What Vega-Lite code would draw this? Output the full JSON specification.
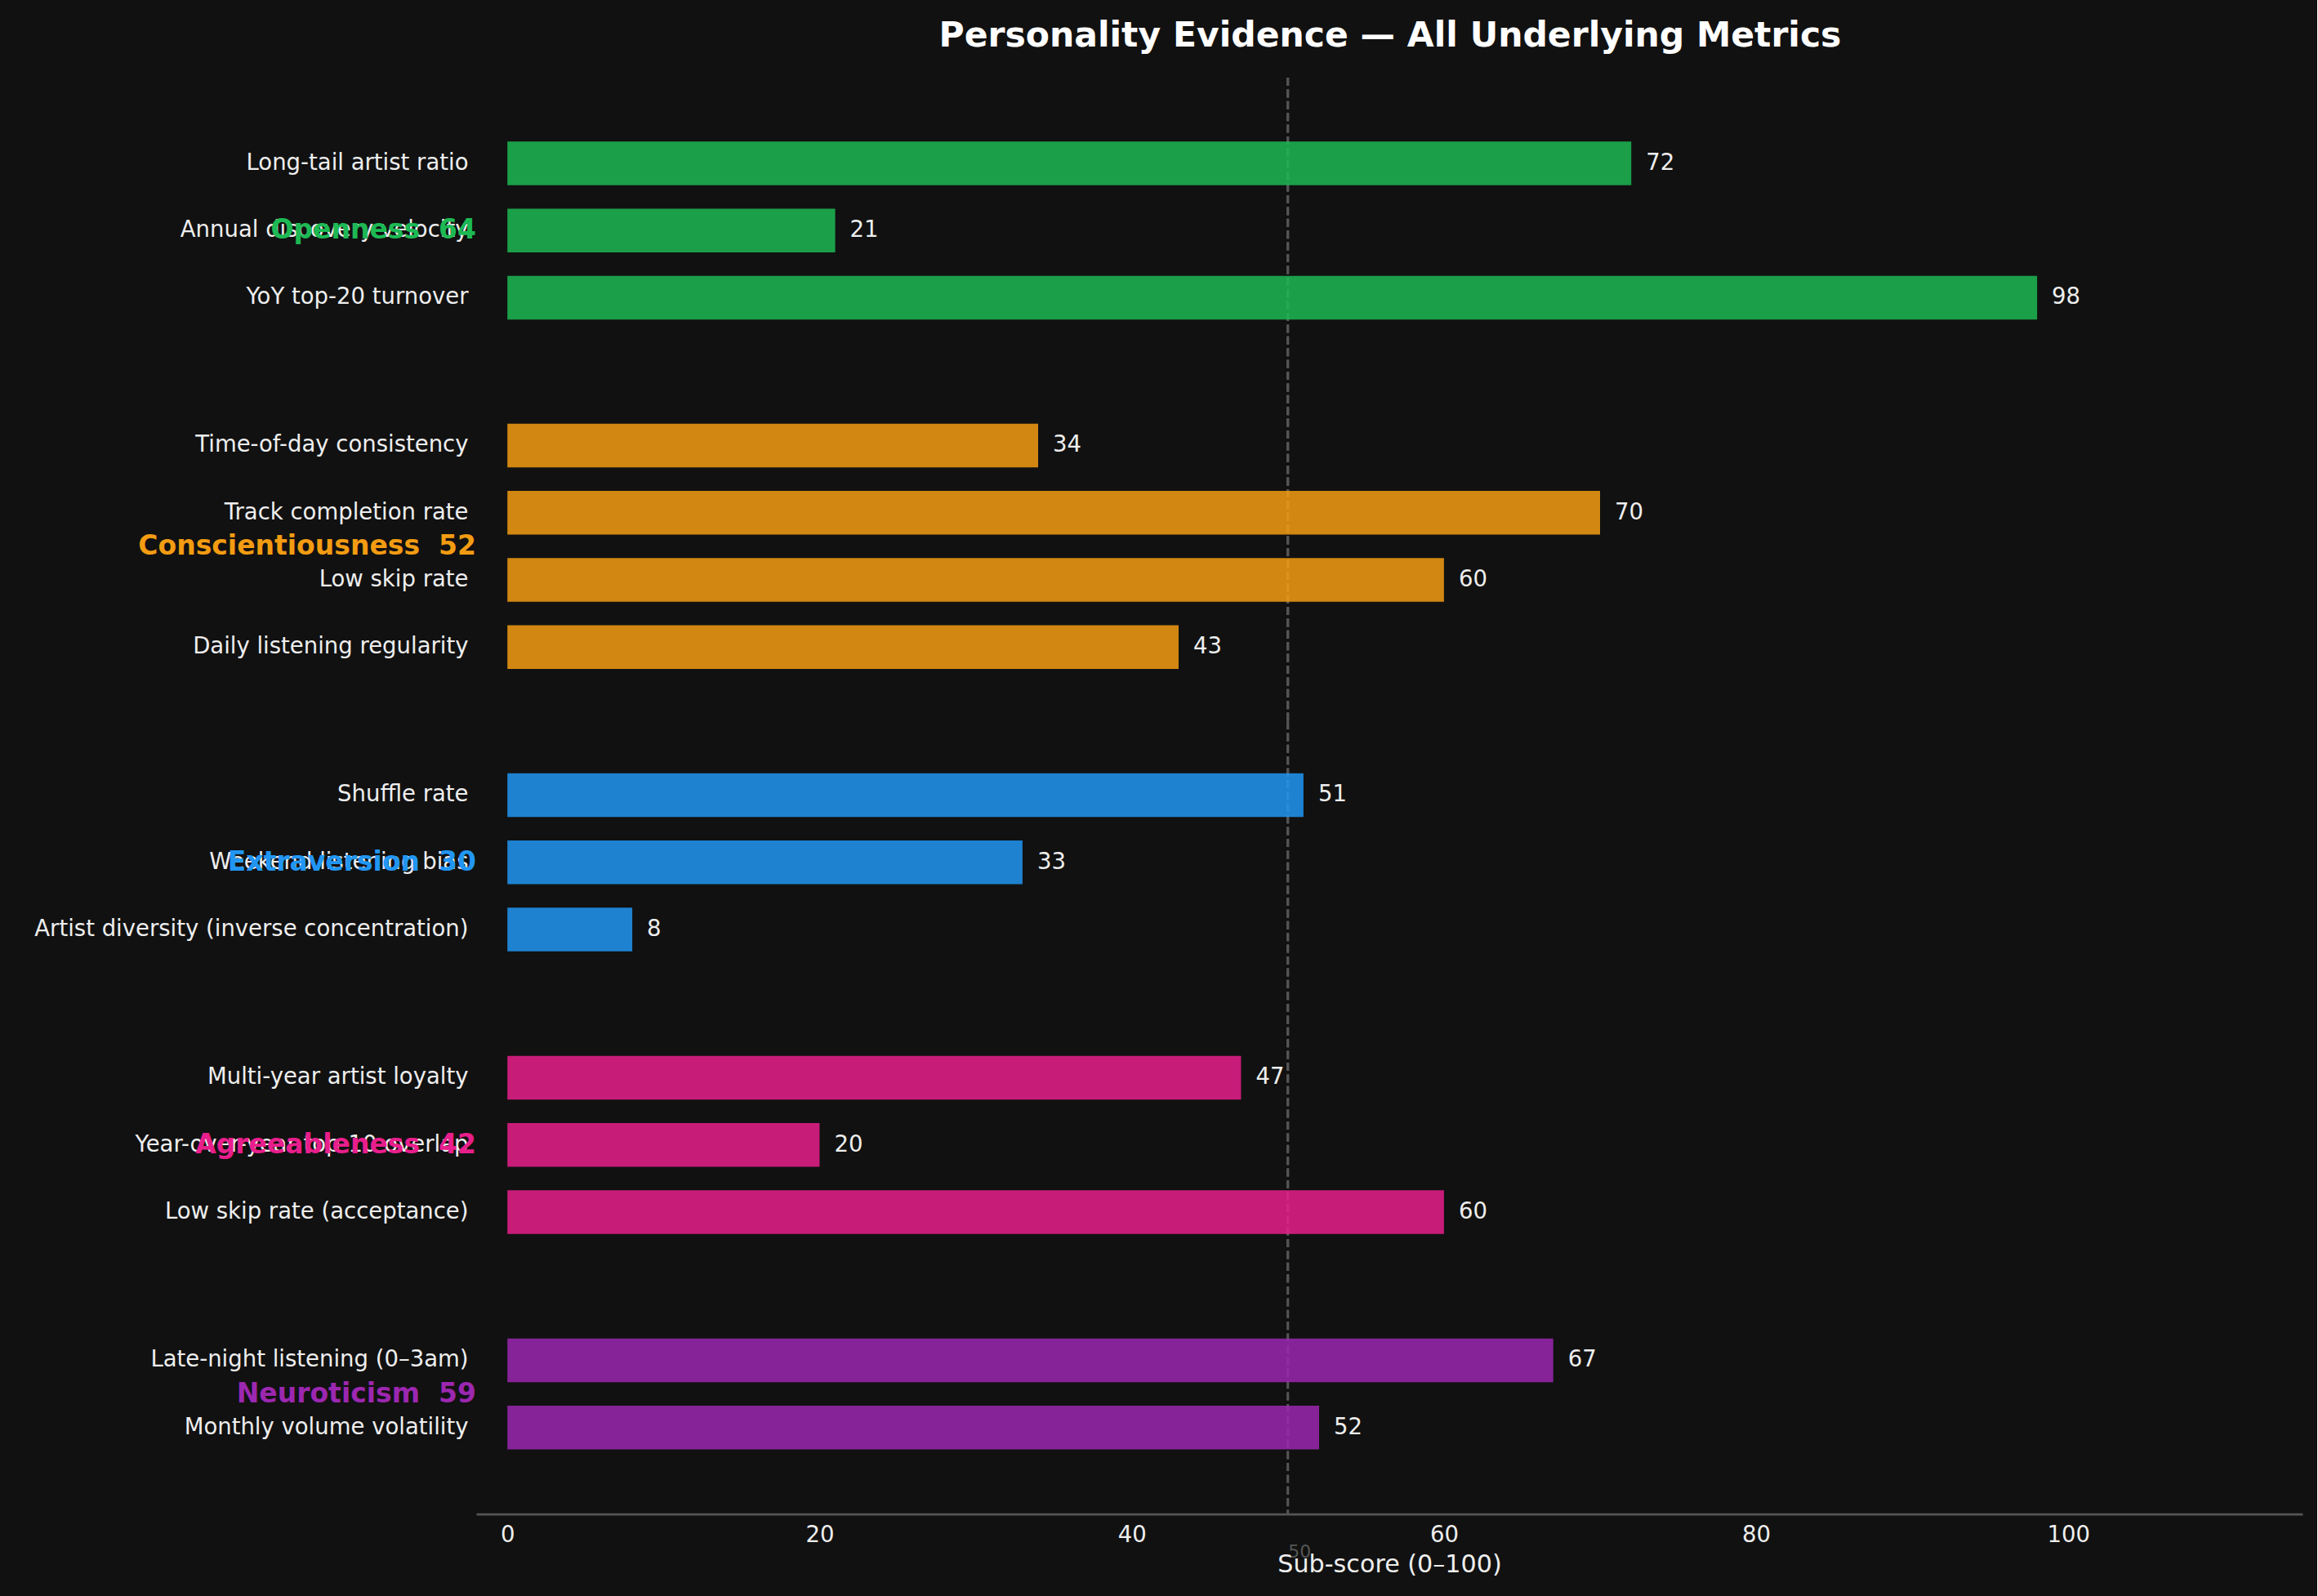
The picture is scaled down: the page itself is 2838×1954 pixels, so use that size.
{
  "$schema": "https://vega.github.io/schema/vega-lite/v6.json",
  "background": "#111111",
  "padding": {"left": 41, "right": 18, "top": 22, "bottom": 24},
  "title": {
    "text": "Personality Evidence — All Underlying Metrics",
    "font": "DejaVu Sans",
    "fontSize": 42.5,
    "fontWeight": "bold",
    "color": "#ffffff",
    "anchor": "middle",
    "dx": 272,
    "offset": 28.5
  },
  "data": {
    "values": [
      {"trait": "Openness", "traitScore": 64, "metric": "Long-tail artist ratio", "score": 72},
      {"trait": "Openness", "traitScore": 64, "metric": "Annual discovery velocity", "score": 21},
      {"trait": "Openness", "traitScore": 64, "metric": "YoY top-20 turnover", "score": 98},
      {"trait": "Conscientiousness", "traitScore": 52, "metric": "Time-of-day consistency", "score": 34},
      {"trait": "Conscientiousness", "traitScore": 52, "metric": "Track completion rate", "score": 70},
      {"trait": "Conscientiousness", "traitScore": 52, "metric": "Low skip rate", "score": 60},
      {"trait": "Conscientiousness", "traitScore": 52, "metric": "Daily listening regularity", "score": 43},
      {"trait": "Extraversion", "traitScore": 30, "metric": "Shuffle rate", "score": 51},
      {"trait": "Extraversion", "traitScore": 30, "metric": "Weekend listening bias", "score": 33},
      {"trait": "Extraversion", "traitScore": 30, "metric": "Artist diversity (inverse concentration)", "score": 8},
      {"trait": "Agreeableness", "traitScore": 42, "metric": "Multi-year artist loyalty", "score": 47},
      {"trait": "Agreeableness", "traitScore": 42, "metric": "Year-over-year top-10 overlap", "score": 20},
      {"trait": "Agreeableness", "traitScore": 42, "metric": "Low skip rate (acceptance)", "score": 60},
      {"trait": "Neuroticism", "traitScore": 59, "metric": "Late-night listening (0–3am)", "score": 67},
      {"trait": "Neuroticism", "traitScore": 59, "metric": "Monthly volume volatility", "score": 52}
    ]
  },
  "spacing": 0,
  "bounds": "flush",
  "resolve": {"scale": {"y": "independent"}, "axis": {"y": "independent"}},
  "vconcat": [
    {
      "width": 2236,
      "height": 359.96,
      "transform": [{"filter": "datum.trait === 'Openness'"}],
      "layer": [
        {"mark": {"type": "rule", "color": "#555555", "strokeWidth": 2.75, "strokeDash": [10, 4.4]}, "encoding": {"x": {"datum": 50, "axis": null}}},
        {
          "mark": {"type": "bar", "opacity": 0.85},
          "encoding": {
            "x": {"field": "score", "type": "quantitative", "scale": {"domain": [-2, 115], "nice": false, "zero": false}, "axis": null},
            "y": {"field": "metric", "type": "nominal", "sort": null, "scale": {"paddingInner": 0.35, "paddingOuter": 0.8633, "align": 0.551},
              "axis": {"title": null, "ticks": false, "domain": false, "grid": false, "labelPadding": 10, "labelFont": "DejaVu Sans", "labelFontSize": 27.5, "labelColor": "#eeeeee", "labelLimit": 0, "minExtent": 542, "maxExtent": 542}},
            "color": {"field": "trait", "type": "nominal", "scale": {"domain": ["Openness", "Conscientiousness", "Extraversion", "Agreeableness", "Neuroticism"], "range": ["#1DB954", "#F39C12", "#2196F3", "#E91E8C", "#9C27B0"]}, "legend": null}
          }
        },
        {
          "mark": {"type": "text", "align": "left", "baseline": "middle", "dx": 18, "font": "DejaVu Sans", "fontSize": 27.5, "color": "#eeeeee"},
          "encoding": {"x": {"field": "score", "type": "quantitative", "axis": null}, "y": {"field": "metric", "type": "nominal", "sort": null}, "text": {"field": "score", "type": "quantitative"}}
        },
        {
          "transform": [
            {"aggregate": [{"op": "max", "field": "traitScore", "as": "traitScore"}], "groupby": ["trait"]},
            {"calculate": "datum.trait + '\u00a0\u00a0' + datum.traitScore", "as": "traitLabel"}
          ],
          "mark": {"type": "text", "align": "right", "baseline": "middle", "dy": 7.3, "font": "DejaVu Sans", "fontSize": 33, "fontWeight": "bold"},
          "encoding": {"x": {"datum": -2, "axis": null}, "text": {"field": "traitLabel", "type": "nominal"}, "color": {"field": "trait", "type": "nominal", "legend": null}}
        }
      ]
    },
    {
      "width": 2236,
      "height": 427.7,
      "transform": [{"filter": "datum.trait === 'Conscientiousness'"}],
      "layer": [
        {"mark": {"type": "rule", "color": "#555555", "strokeWidth": 2.75, "strokeDash": [10, 4.4]}, "encoding": {"x": {"datum": 50, "axis": null}}},
        {
          "mark": {"type": "bar", "opacity": 0.85},
          "encoding": {
            "x": {"field": "score", "type": "quantitative", "scale": {"domain": [-2, 115], "nice": false, "zero": false}, "axis": null},
            "y": {"field": "metric", "type": "nominal", "sort": null, "scale": {"paddingInner": 0.35, "paddingOuter": 0.775},
              "axis": {"title": null, "ticks": false, "domain": false, "grid": false, "labelPadding": 10, "labelFont": "DejaVu Sans", "labelFontSize": 27.5, "labelColor": "#eeeeee", "labelLimit": 0, "minExtent": 542, "maxExtent": 542}},
            "color": {"field": "trait", "type": "nominal", "legend": null}
          }
        },
        {
          "mark": {"type": "text", "align": "left", "baseline": "middle", "dx": 18, "font": "DejaVu Sans", "fontSize": 27.5, "color": "#eeeeee"},
          "encoding": {"x": {"field": "score", "type": "quantitative", "axis": null}, "y": {"field": "metric", "type": "nominal", "sort": null}, "text": {"field": "score", "type": "quantitative"}}
        },
        {
          "transform": [
            {"aggregate": [{"op": "max", "field": "traitScore", "as": "traitScore"}], "groupby": ["trait"]},
            {"calculate": "datum.trait + '\u00a0\u00a0' + datum.traitScore", "as": "traitLabel"}
          ],
          "mark": {"type": "text", "align": "right", "baseline": "middle", "font": "DejaVu Sans", "fontSize": 33, "fontWeight": "bold"},
          "encoding": {"x": {"datum": -2, "axis": null}, "text": {"field": "traitLabel", "type": "nominal"}, "color": {"field": "trait", "type": "nominal", "legend": null}}
        }
      ]
    },
    {
      "width": 2236,
      "height": 345.45,
      "transform": [{"filter": "datum.trait === 'Extraversion'"}],
      "layer": [
        {"mark": {"type": "rule", "color": "#555555", "strokeWidth": 2.75, "strokeDash": [10, 4.4]}, "encoding": {"x": {"datum": 50, "axis": null}}},
        {
          "mark": {"type": "bar", "opacity": 0.85},
          "encoding": {
            "x": {"field": "score", "type": "quantitative", "scale": {"domain": [-2, 115], "nice": false, "zero": false}, "axis": null},
            "y": {"field": "metric", "type": "nominal", "sort": null, "scale": {"paddingInner": 0.35, "paddingOuter": 0.775},
              "axis": {"title": null, "ticks": false, "domain": false, "grid": false, "labelPadding": 10, "labelFont": "DejaVu Sans", "labelFontSize": 27.5, "labelColor": "#eeeeee", "labelLimit": 0, "minExtent": 542, "maxExtent": 542}},
            "color": {"field": "trait", "type": "nominal", "legend": null}
          }
        },
        {
          "mark": {"type": "text", "align": "left", "baseline": "middle", "dx": 18, "font": "DejaVu Sans", "fontSize": 27.5, "color": "#eeeeee"},
          "encoding": {"x": {"field": "score", "type": "quantitative", "axis": null}, "y": {"field": "metric", "type": "nominal", "sort": null}, "text": {"field": "score", "type": "quantitative"}}
        },
        {
          "transform": [
            {"aggregate": [{"op": "max", "field": "traitScore", "as": "traitScore"}], "groupby": ["trait"]},
            {"calculate": "datum.trait + '\u00a0\u00a0' + datum.traitScore", "as": "traitLabel"}
          ],
          "mark": {"type": "text", "align": "right", "baseline": "middle", "font": "DejaVu Sans", "fontSize": 33, "fontWeight": "bold"},
          "encoding": {"x": {"datum": -2, "axis": null}, "text": {"field": "traitLabel", "type": "nominal"}, "color": {"field": "trait", "type": "nominal", "legend": null}}
        }
      ]
    },
    {
      "width": 2236,
      "height": 345.45,
      "transform": [{"filter": "datum.trait === 'Agreeableness'"}],
      "layer": [
        {"mark": {"type": "rule", "color": "#555555", "strokeWidth": 2.75, "strokeDash": [10, 4.4]}, "encoding": {"x": {"datum": 50, "axis": null}}},
        {
          "mark": {"type": "bar", "opacity": 0.85},
          "encoding": {
            "x": {"field": "score", "type": "quantitative", "scale": {"domain": [-2, 115], "nice": false, "zero": false}, "axis": null},
            "y": {"field": "metric", "type": "nominal", "sort": null, "scale": {"paddingInner": 0.35, "paddingOuter": 0.775},
              "axis": {"title": null, "ticks": false, "domain": false, "grid": false, "labelPadding": 10, "labelFont": "DejaVu Sans", "labelFontSize": 27.5, "labelColor": "#eeeeee", "labelLimit": 0, "minExtent": 542, "maxExtent": 542}},
            "color": {"field": "trait", "type": "nominal", "legend": null}
          }
        },
        {
          "mark": {"type": "text", "align": "left", "baseline": "middle", "dx": 18, "font": "DejaVu Sans", "fontSize": 27.5, "color": "#eeeeee"},
          "encoding": {"x": {"field": "score", "type": "quantitative", "axis": null}, "y": {"field": "metric", "type": "nominal", "sort": null}, "text": {"field": "score", "type": "quantitative"}}
        },
        {
          "transform": [
            {"aggregate": [{"op": "max", "field": "traitScore", "as": "traitScore"}], "groupby": ["trait"]},
            {"calculate": "datum.trait + '\u00a0\u00a0' + datum.traitScore", "as": "traitLabel"}
          ],
          "mark": {"type": "text", "align": "right", "baseline": "middle", "font": "DejaVu Sans", "fontSize": 33, "fontWeight": "bold"},
          "encoding": {"x": {"datum": -2, "axis": null}, "text": {"field": "traitLabel", "type": "nominal"}, "color": {"field": "trait", "type": "nominal", "legend": null}}
        }
      ]
    },
    {
      "width": 2236,
      "height": 278.7,
      "transform": [{"filter": "datum.trait === 'Neuroticism'"}],
      "layer": [
        {"mark": {"type": "rule", "color": "#555555", "strokeWidth": 2.75, "strokeDash": [10, 4.4]}, "encoding": {"x": {"datum": 50}}},
        {
          "mark": {"type": "bar", "opacity": 0.85},
          "encoding": {
            "x": {
              "field": "score",
              "type": "quantitative",
              "scale": {"domain": [-2, 115], "nice": false, "zero": false},
              "axis": {
                "values": [0, 20, 40, 50, 60, 80, 100],
                "labelExpr": "datum.value === 50 ? '\u00a050' : datum.label",
                "title": "Sub-score (0–100)",
                "titleFont": "DejaVu Sans",
                "titleFontSize": 30.2,
                "titleFontWeight": "normal",
                "titleColor": "#eeeeee",
                "titlePadding": -10,
                "ticks": false,
                "grid": false,
                "domainColor": "#555555",
                "domainWidth": 2.75,
                "labelFont": "DejaVu Sans",
                "labelFlush": false,
                "labelOverlap": false,
                "labelPadding": 12,
                "labelLineHeight": 69,
                "labelFontSize": {"condition": {"test": "datum.value === 50", "value": 22}, "value": 27.5},
                "labelColor": {"condition": {"test": "datum.value === 50", "value": "#555555"}, "value": "#eeeeee"},
                "labelBaseline": {"condition": {"test": "datum.value === 50", "value": "line-top"}, "value": "top"},
                "labelAlign": {"condition": {"test": "datum.value === 50", "value": "left"}, "value": "center"}
              }
            },
            "y": {"field": "metric", "type": "nominal", "sort": null, "scale": {"paddingInner": 0.35, "paddingOuter": 0.8693, "align": 0.4457},
              "axis": {"title": null, "ticks": false, "domain": false, "grid": false, "labelPadding": 10, "labelFont": "DejaVu Sans", "labelFontSize": 27.5, "labelColor": "#eeeeee", "labelLimit": 0, "minExtent": 542, "maxExtent": 542}},
            "color": {"field": "trait", "type": "nominal", "legend": null}
          }
        },
        {
          "mark": {"type": "text", "align": "left", "baseline": "middle", "dx": 18, "font": "DejaVu Sans", "fontSize": 27.5, "color": "#eeeeee"},
          "encoding": {"x": {"field": "score", "type": "quantitative"}, "y": {"field": "metric", "type": "nominal", "sort": null}, "text": {"field": "score", "type": "quantitative"}}
        },
        {
          "transform": [
            {"aggregate": [{"op": "max", "field": "traitScore", "as": "traitScore"}], "groupby": ["trait"]},
            {"calculate": "datum.trait + '\u00a0\u00a0' + datum.traitScore", "as": "traitLabel"}
          ],
          "mark": {"type": "text", "align": "right", "baseline": "middle", "dy": -7.8, "font": "DejaVu Sans", "fontSize": 33, "fontWeight": "bold"},
          "encoding": {"x": {"datum": -2}, "text": {"field": "traitLabel", "type": "nominal"}, "color": {"field": "trait", "type": "nominal", "legend": null}}
        }
      ]
    }
  ],
  "config": {
    "view": {"stroke": null},
    "font": "DejaVu Sans"
  }
}
